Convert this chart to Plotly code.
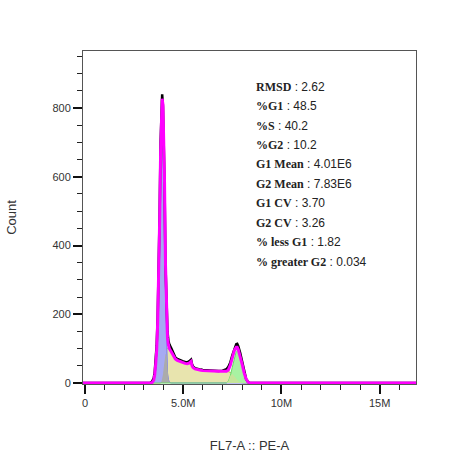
import numpy as np
import plotly.graph_objects as go

# ---- data, x in units of 1e6 ----
x_m = [3.0, 3.3, 3.4, 3.5, 3.55, 3.6, 3.65, 3.7, 3.75, 3.8, 3.85, 3.9, 3.93, 3.97, 4.0, 4.05,
       4.1, 4.15, 4.2, 4.25, 4.3, 4.4, 4.5, 4.6, 4.7, 4.8, 4.9, 5.0, 5.1, 5.2, 5.3, 5.4,
       5.45, 5.5, 5.6, 5.7, 5.8, 5.9, 6.0, 6.2, 6.4, 6.6, 6.8, 7.0, 7.2, 7.3, 7.4, 7.5,
       7.6, 7.7, 7.75, 7.8, 7.9, 8.0, 8.1, 8.2, 8.3, 8.4, 8.6]

counts = [0, 0, 3, 14, 32, 65, 110, 190, 320, 490, 700, 828, 840, 805, 740, 580,
          340, 200, 150, 122, 112, 100, 86, 74, 70, 67, 65, 63, 61, 60, 63, 68,
          55, 48, 43, 41, 40, 39, 38, 37, 36, 35, 35, 36, 40, 47, 60, 80,
          100, 113, 114, 108, 88, 60, 32, 12, 3, 0, 0]

g1_fit = [0, 0, 0, 8, 24, 55, 95, 175, 300, 470, 675, 805, 815, 785, 700, 520,
          260, 80, 30, 10, 2, 0, 0, 0, 0, 0, 0, 0, 0, 0, 0, 0,
          0, 0, 0, 0, 0, 0, 0, 0, 0, 0, 0, 0, 0, 0, 0, 0,
          0, 0, 0, 0, 0, 0, 0, 0, 0, 0, 0]

s_fit = [0, 0, 0, 0, 0, 0, 0, 0, 0, 0, 0, 5, 12, 25, 40, 65,
         85, 98, 102, 100, 98, 90, 78, 70, 66, 63, 61, 59, 57, 56, 58, 63,
         50, 45, 41, 39, 38, 37, 36, 35, 34, 34, 34, 34, 34, 33, 31, 27,
         20, 12, 9, 6, 2, 0, 0, 0, 0, 0, 0]

g2_fit = [0, 0, 0, 0, 0, 0, 0, 0, 0, 0, 0, 0, 0, 0, 0, 0,
          0, 0, 0, 0, 0, 0, 0, 0, 0, 0, 0, 0, 0, 0, 0, 0,
          0, 0, 0, 0, 0, 0, 0, 0, 0, 0, 0, 0, 0, 5, 21, 46,
          74, 92, 95, 92, 78, 55, 30, 12, 3, 0, 0]

stat_labels = ["RMSD", "%G1", "%S", "%G2", "G1 Mean", "G2 Mean", "G1 CV", "G2 CV",
               "% less G1", "% greater G2"]
stat_values = ["2.62", "48.5", "40.2", "10.2", "4.01E6", "7.83E6", "3.70", "3.26",
               "1.82", "0.034"]

x_tickvals = [0, 5e6, 10e6, 15e6]
x_ticktext = ["0", "5.0M", "10M", "15M"]
y_tickvals = [0, 200, 400, 600, 800]

# full-range data (zero tails)
x_full = np.array([-0.1] + x_m + [16.9]) * 1e6
cnt = np.array([0] + counts + [0], float)
g1 = np.array([0] + g1_fit + [0], float)
s = np.array([0] + s_fit + [0], float)
g2 = np.array([0] + g2_fit + [0], float)
fit_total = g1 + s + g2

fig = go.Figure()

# S phase
fig.add_trace(go.Scatter(x=x_full, y=s, mode="lines", fill="tozeroy",
                         fillcolor="#e8e4ae", line=dict(color="#c0a850", width=1),
                         hoverinfo="skip"))
# G1
fig.add_trace(go.Scatter(x=x_full, y=g1, mode="lines", fill="tozeroy",
                         fillcolor="#a6aaf2", line=dict(color="#7a7ee6", width=1),
                         hoverinfo="skip"))
# overlap G1 & S
fig.add_trace(go.Scatter(x=x_full, y=np.minimum(g1, s), mode="lines", fill="tozeroy",
                         fillcolor="#ababab", line=dict(color="rgba(0,0,0,0)", width=0),
                         hoverinfo="skip"))
# G2
fig.add_trace(go.Scatter(x=x_full, y=g2, mode="lines", fill="tozeroy",
                         fillcolor="#a8f2a2", line=dict(color="#6ad86a", width=1),
                         hoverinfo="skip"))
# overlap S & G2
fig.add_trace(go.Scatter(x=x_full, y=np.minimum(s, g2), mode="lines", fill="tozeroy",
                         fillcolor="#c6e49a", line=dict(color="rgba(0,0,0,0)", width=0),
                         hoverinfo="skip"))
# raw histogram
fig.add_trace(go.Scatter(x=x_full, y=cnt, mode="lines",
                         line=dict(color="black", width=2.5), hoverinfo="skip"))
# fit total
fig.add_trace(go.Scatter(x=x_full, y=fit_total, mode="lines",
                         line=dict(color="#ff00ff", width=3), hoverinfo="skip"))

# stats text
x0_px, y0_px, dy_px = 254, 86.7, 19.44
plot_l, plot_t, plot_r, plot_b = 83, 51, 416, 384
for i, (lab, val) in enumerate(zip(stat_labels, stat_values)):
    ypx = y0_px + i * dy_px
    fig.add_annotation(
        xref="paper", yref="paper",
        x=(x0_px - plot_l) / (plot_r - plot_l),
        y=(plot_b - ypx) / (plot_b - plot_t),
        xanchor="left", yanchor="middle", showarrow=False,
        text=("<span style='font-family:Liberation Serif;font-weight:bold'>" + lab +
              "</span> : " + val),
        font=dict(family="Liberation Sans, Arial", size=12, color="#222"),
    )

fig.update_layout(
    width=453, height=465,
    margin=dict(l=plot_l, r=453 - plot_r, t=plot_t, b=465 - plot_b),
    paper_bgcolor="white", plot_bgcolor="white",
    showlegend=False,
    font=dict(family="Liberation Sans, Arial", size=11, color="#333"),
)
fig.update_xaxes(
    range=[-0.1e6, 16.85e6], tickvals=x_tickvals, ticktext=x_ticktext,
    showgrid=False, zeroline=False,
    showline=True, linecolor="#555", linewidth=1, mirror=True,
    ticks="outside", ticklen=9, tickwidth=2, tickcolor="#111",
    minor=dict(dtick=1e6, tick0=0, ticks="outside", ticklen=5, tickwidth=1, tickcolor="#222"),
    title=dict(text="FL7-A :: PE-A", font=dict(size=13, color="#333"), standoff=32),
    tickfont=dict(size=11, color="#333"),
)
fig.update_yaxes(
    range=[-2.9, 965.8], tickvals=y_tickvals,
    showgrid=False, zeroline=False,
    showline=True, linecolor="#555", linewidth=1, mirror=True,
    ticks="outside", ticklen=9, tickwidth=2, tickcolor="#111",
    minor=dict(dtick=50, tick0=0, ticks="outside", ticklen=5, tickwidth=1, tickcolor="#222"),
    title=dict(text="Count", font=dict(size=13, color="#333"), standoff=32),
    tickfont=dict(size=11, color="#333"),
)

fig.write_html("out.html")
